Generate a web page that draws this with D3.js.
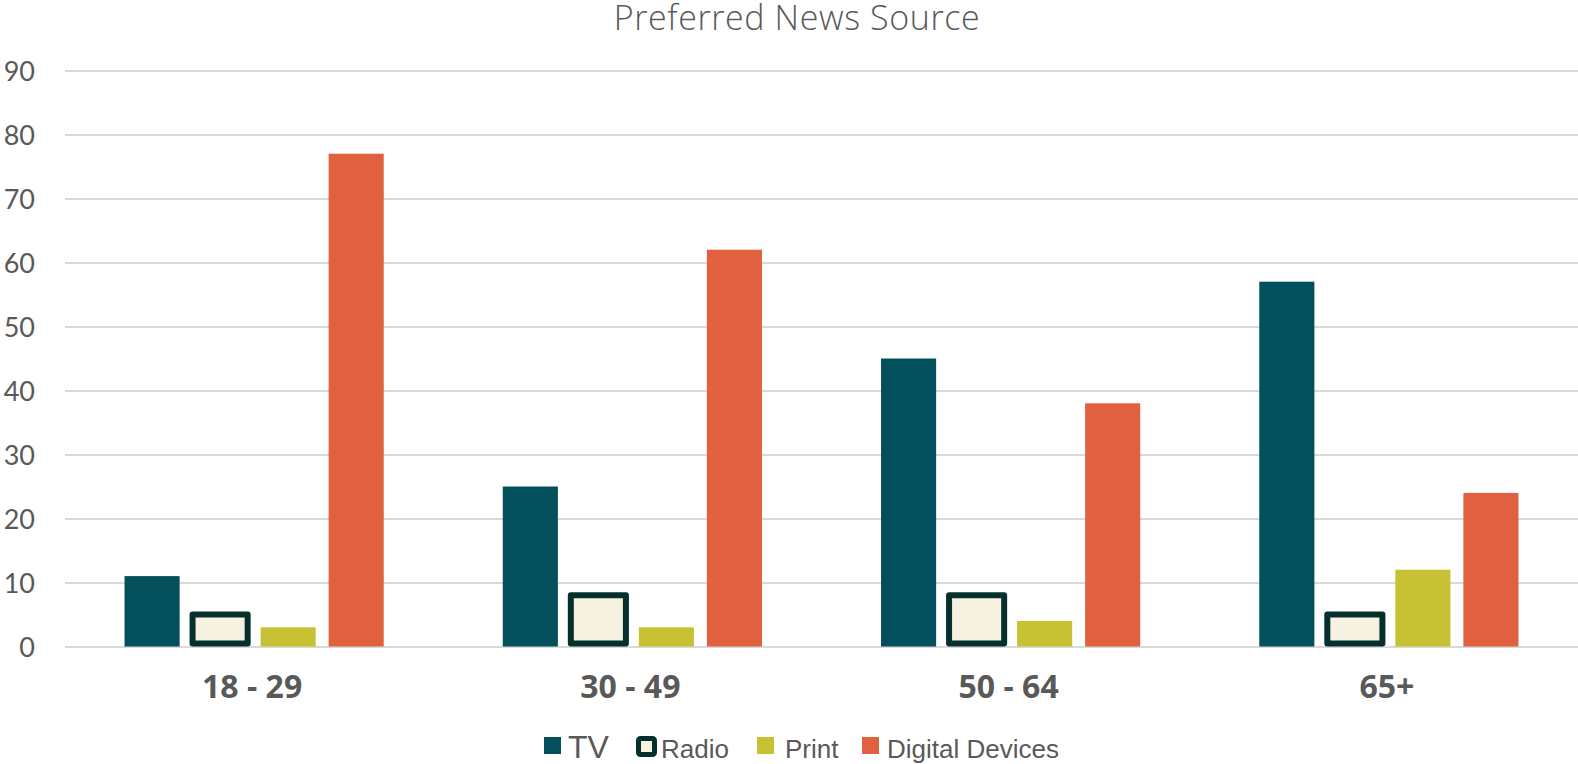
<!doctype html>
<html lang="en">

<head>
  <title>Preferred News Source</title>
  <meta charset="utf-8">
  <style>
    body { margin: 0; background: #fff; }
    svg { display: block; }
  </style>
</head>

<body>
  <div id="news-source-vis"></div>

  <script src="https://d3js.org/d3.v7.min.js"></script>
  <script>
    // Data ------------------------------------------------------------------------------------------------------------
    const ageGroups = ["18 - 29", "30 - 49", "50 - 64", "65+"];
    const seriesNames = ["TV", "Radio", "Print", "Digital Devices"];
    const tvValues = [11, 25, 45, 57];
    const radioValues = [5, 8, 8, 5];
    const printValues = [3, 3, 4, 12];
    const digitalValues = [77, 62, 38, 24];
    const yTicks = [0, 10, 20, 30, 40, 50, 60, 70, 80, 90];

    const seriesValues = [tvValues, radioValues, printValues, digitalValues];

    // Canvas ----------------------------------------------------------------------------------------------------------
    const width = 1578;
    const height = 764;
    const plotLeft = 65;
    const plotRight = 1578;
    const plotTop = 70.5;
    const plotBottom = 646.5;

    const fills = ["#03505C", "#F7F1E1", "#C7C233", "#E0603F"];
    const radioStroke = "#05302B";
    const textColor = "#595959";

    const svg = d3.select("#news-source-vis")
      .append("svg")
      .attr("width", width)
      .attr("height", height)
      .attr("viewBox", [0, 0, width, height]);

    // Scales ----------------------------------------------------------------------------------------------------------
    const x0 = d3.scaleBand()
      .domain(ageGroups)
      .range([plotLeft, plotRight])
      .paddingInner(0)
      .paddingOuter(0);

    const x1 = d3.scaleBand()
      .domain(seriesNames)
      .range([0, x0.bandwidth()])
      .paddingInner(0.19)
      .paddingOuter(0.875);

    const y = d3.scaleLinear()
      .domain([0, 90])
      .range([plotBottom, plotTop]);

    // Title -----------------------------------------------------------------------------------------------------------
    svg.append("text")
      .attr("x", 797)
      .attr("y", 30)
      .attr("text-anchor", "middle")
      .style("font-family", "'Open Sans', sans-serif")
      .style("font-weight", 300)
      .style("font-size", "34px")
      .style("letter-spacing", "0.6px")
      .style("fill", textColor)
      .text("Preferred News Source");

    // Grid + y axis ---------------------------------------------------------------------------------------------------
    const yAxis = svg.append("g")
      .attr("transform", "translate(" + plotLeft + ",0)")
      .call(
        d3.axisLeft(y)
        .tickValues(yTicks)
        .tickSize(-(plotRight - plotLeft))
        .tickPadding(30)
      );

    yAxis.select(".domain").remove();
    yAxis.selectAll("line")
      .style("stroke", "#D9D9D9")
      .style("stroke-width", 2);
    yAxis.selectAll("text")
      .attr("dy", "0.36em")
      .style("font-family", "Lato, sans-serif")
      .style("font-size", "27px")
      .style("fill", textColor);

    // Bars ------------------------------------------------------------------------------------------------------------
    // the radio series has a thick rounded outline, so its rect is pulled up from the baseline by half the stroke
    const groups = svg.append("g")
      .selectAll("g")
      .data(ageGroups)
      .join("g")
      .attr("transform", d => "translate(" + x0(d) + ",0)");

    groups.selectAll("rect")
      .data((d, i) => seriesNames.map((s, j) => ({ series: s, idx: j, value: seriesValues[j][i] })))
      .join("rect")
      .attr("x", d => x1(d.series))
      .attr("y", d => y(d.value))
      .attr("width", x1.bandwidth())
      .attr("height", d => y(0) - y(d.value) - (d.idx === 1 ? 3 : 0))
      .style("fill", d => fills[d.idx])
      .style("stroke", d => d.idx === 1 ? radioStroke : "none")
      .style("stroke-width", d => d.idx === 1 ? 6 : 0)
      .style("stroke-linejoin", "round");

    // X labels --------------------------------------------------------------------------------------------------------
    svg.append("g")
      .selectAll("text")
      .data(ageGroups)
      .join("text")
      .attr("x", d => x0(d) + x0.bandwidth() / 2 - 2)
      .attr("y", 698)
      .attr("text-anchor", "middle")
      .style("font-family", "'Open Sans', sans-serif")
      .style("font-weight", 700)
      .style("font-size", "32px")
      .style("fill", textColor)
      .text(d => d);

    // Legend ----------------------------------------------------------------------------------------------------------
    const legendMarkerX = [544, 636, 757, 862];
    const legendTextX = [568, 661, 785, 887];
    const legendFont = [32, 26, 26, 26];

    const legend = svg.append("g");

    seriesNames.forEach((name, i) => {
      if (i === 1) {
        legend.append("rect")
          .attr("x", legendMarkerX[i] + 2.5)
          .attr("y", 738.5)
          .attr("width", 16)
          .attr("height", 16)
          .attr("rx", 2)
          .style("fill", fills[i])
          .style("stroke", radioStroke)
          .style("stroke-width", 5)
          .style("stroke-linejoin", "round");
      } else {
        legend.append("rect")
          .attr("x", legendMarkerX[i])
          .attr("y", 737)
          .attr("width", 17)
          .attr("height", 17)
          .style("fill", fills[i]);
      }

      legend.append("text")
        .attr("x", legendTextX[i])
        .attr("y", 758)
        .style("font-family", "'Liberation Sans', Arial, sans-serif")
        .style("font-size", legendFont[i] + "px")
        .style("fill", textColor)
        .text(name);
    });
  </script>

</body>

</html>
